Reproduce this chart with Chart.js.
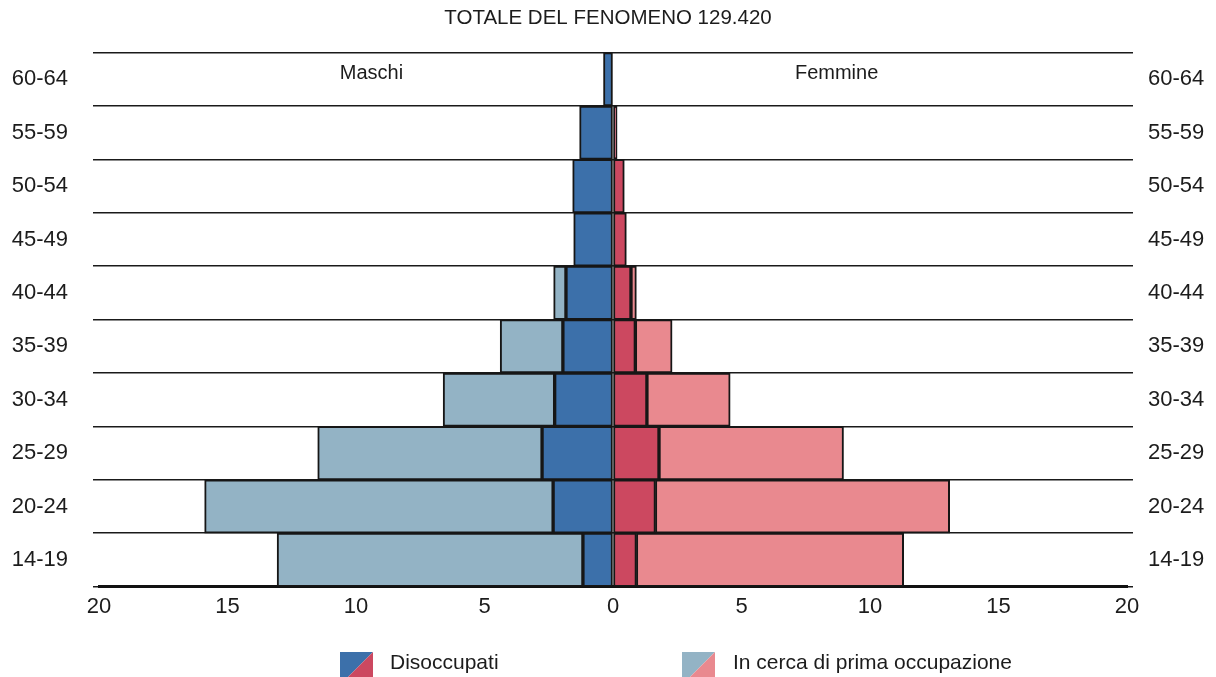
<!DOCTYPE html>
<html>
<head>
<meta charset="utf-8">
<script src="https://cdn.jsdelivr.net/npm/chart.js@4.4.0/dist/chart.umd.min.js"></script>
<style>
  body { margin: 0; background: #ffffff; }
  canvas { display: block; }
</style>
</head>
<body>
<canvas id="pyramid" width="1216" height="677"></canvas>
<script>
// age groups, top to bottom
const ageGroups = ['60-64', '55-59', '50-54', '45-49', '40-44', '35-39', '30-34', '25-29', '20-24', '14-19'];

// values (thousands)
const maschiDisoccupati = [0.37, 1.30, 1.57, 1.53, 1.83, 1.95, 2.27, 2.76, 2.33, 1.17];
const maschiPrimaOcc = [0, 0, 0, 0, 0.48, 2.44, 4.34, 8.73, 13.56, 11.9];
const femmineDisoccupati = [0, 0.16, 0.44, 0.52, 0.70, 0.87, 1.32, 1.79, 1.65, 0.91];
const femminePrimaOcc = [0, 0, 0, 0, 0.21, 1.43, 3.24, 7.18, 11.45, 10.4];

const xTicks = [-20, -15, -10, -5, 0, 5, 10, 15, 20];

const FONT = '"Liberation Sans", Arial, sans-serif';
const INK = '#1c1c1c';
const colors = {
  mDis: '#3c70aa',
  mPrima: '#93b3c5',
  fDis: '#cc4860',
  fPrima: '#e9898f'
};

// no bar for empty cells (a zero-width bar still draws a hairline)
const left = arr => arr.map(v => (v ? -v : null));
const right = arr => arr.map(v => (v ? v : null));

// sex labels inside the top row + custom legend at the bottom
const extras = {
  id: 'extras',
  afterDraw(chart) {
    const ctx = chart.ctx;
    const x = chart.scales.x;
    const area = chart.chartArea;
    ctx.save();
    ctx.fillStyle = INK;
    ctx.font = '20px ' + FONT;
    ctx.textAlign = 'center';
    ctx.textBaseline = 'middle';
    ctx.fillText('Maschi', x.getPixelForValue(-9.4), area.top + 21);
    ctx.fillText('Femmine', x.getPixelForValue(8.7), area.top + 21);

    const items = [
      { left: 340, textX: 390, a: colors.mDis, b: colors.fDis, text: 'Disoccupati' },
      { left: 682, textX: 733, a: colors.mPrima, b: colors.fPrima, text: 'In cerca di prima occupazione' }
    ];
    const top = 652, size = 33;
    items.forEach(it => {
      ctx.fillStyle = it.a;
      ctx.beginPath();
      ctx.moveTo(it.left, top);
      ctx.lineTo(it.left + size, top);
      ctx.lineTo(it.left, top + size);
      ctx.closePath();
      ctx.fill();
      ctx.fillStyle = it.b;
      ctx.beginPath();
      ctx.moveTo(it.left + size, top);
      ctx.lineTo(it.left + size, top + size);
      ctx.lineTo(it.left, top + size);
      ctx.closePath();
      ctx.fill();
      ctx.fillStyle = INK;
      ctx.font = '21px ' + FONT;
      ctx.textAlign = 'left';
      ctx.fillText(it.text, it.textX, 663);
    });
    ctx.restore();
  }
};

const barStyle = {
  borderColor: '#161616',
  borderWidth: 2,
  borderSkipped: false,
  barPercentage: 1,
  categoryPercentage: 1
};

new Chart(document.getElementById('pyramid'), {
  type: 'bar',
  data: {
    labels: ageGroups,
    datasets: [
      Object.assign({ label: 'Maschi disoccupati', data: left(maschiDisoccupati), backgroundColor: colors.mDis }, barStyle),
      Object.assign({ label: 'Maschi in cerca di prima occupazione', data: left(maschiPrimaOcc), backgroundColor: colors.mPrima }, barStyle),
      Object.assign({ label: 'Femmine disoccupate', data: right(femmineDisoccupati), backgroundColor: colors.fDis }, barStyle),
      Object.assign({ label: 'Femmine in cerca di prima occupazione', data: right(femminePrimaOcc), backgroundColor: colors.fPrima }, barStyle)
    ]
  },
  options: {
    indexAxis: 'y',
    responsive: false,
    animation: false,
    layout: { padding: { bottom: 50 } },
    plugins: {
      legend: { display: false },
      tooltip: { enabled: false },
      title: {
        display: true,
        text: 'TOTALE DEL FENOMENO 129.420',
        color: INK,
        font: { family: FONT, size: 20.5, weight: 'normal' },
        padding: { top: 6, bottom: 22 }
      }
    },
    scales: {
      x: {
        type: 'linear',
        stacked: true,
        min: -20,
        max: 20,
        afterBuildTicks: scale => { scale.ticks = xTicks.map(v => ({ value: v })); },
        grid: { display: true, drawOnChartArea: false, drawTicks: false },
        border: { display: true, color: '#111', width: 3 },
        ticks: {
          padding: 7,
          color: INK,
          font: { family: FONT, size: 22 },
          callback: v => Math.abs(v)
        }
      },
      y: {
        type: 'category',
        position: 'left',
        stacked: true,
        offset: true,
        afterFit: scale => { scale.width = 99; },
        grid: { offset: true, color: '#1a1a1a', lineWidth: 1.5, drawTicks: true, tickLength: 6 },
        border: { display: false },
        ticks: { padding: 25, color: INK, font: { family: FONT, size: 22 } }
      },
      y2: {
        type: 'category',
        position: 'right',
        offset: true,
        afterFit: scale => { scale.width = 89; },
        grid: { offset: true, drawOnChartArea: false, color: '#1a1a1a', lineWidth: 1.5, drawTicks: true, tickLength: 6 },
        border: { display: false },
        ticks: { padding: 15, color: INK, font: { family: FONT, size: 22 } }
      }
    }
  },
  plugins: [extras]
});
</script>
</body>
</html>
